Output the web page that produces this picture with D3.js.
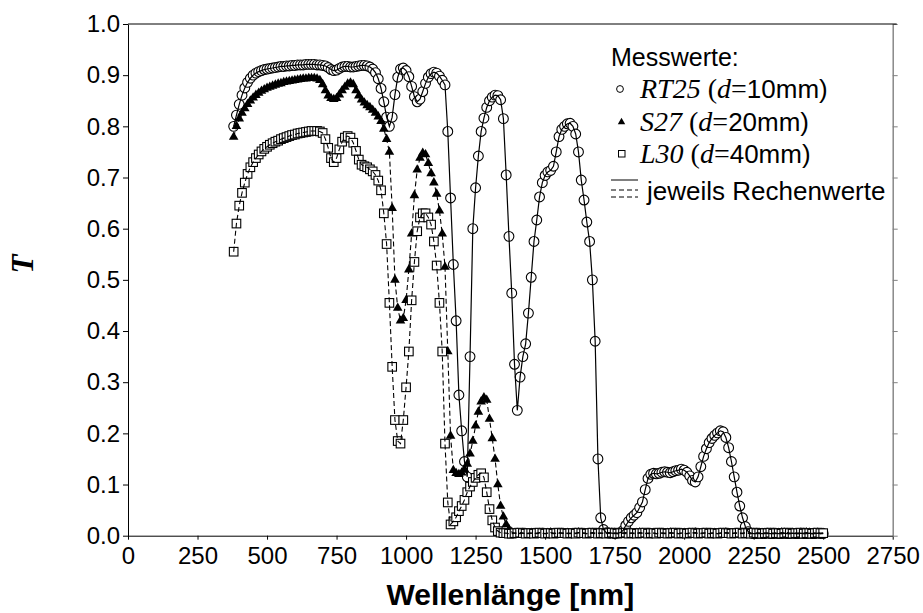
<!DOCTYPE html>
<html>
<meta charset="utf-8">
<style>
  body { margin: 0; background: #fff; }
  svg text { font-family: "Liberation Sans", Arial, sans-serif; fill: #000; }
</style>
<body>
<svg width="923" height="613"></svg>
<script src="https://cdn.jsdelivr.net/npm/d3@7/dist/d3.min.js"></script>
<script>

// Wellenlängen der Messpunkte [nm]
const wavelengths = [
  380,390,400,410,420,430,440,450,460,470,
  480,490,500,510,520,530,540,550,560,570,
  580,590,600,610,620,630,640,650,660,670,
  680,690,700,710,720,730,740,750,760,770,
  780,790,800,810,820,830,840,850,860,870,
  880,890,900,910,920,930,940,950,960,970,
  980,990,1000,1010,1020,1030,1040,1050,1060,1070,
  1080,1090,1100,1110,1120,1130,1140,1150,1160,1170,
  1180,1190,1200,1210,1220,1230,1240,1250,1260,1270,
  1280,1290,1300,1310,1320,1330,1340,1350,1360,1370,
  1380,1390,1400,1410,1420,1430,1440,1450,1460,1470,
  1480,1490,1500,1510,1520,1530,1540,1550,1560,1570,
  1580,1590,1600,1610,1620,1630,1640,1650,1660,1670,
  1680,1690,1700,1710,1720,1730,1740,1750,1760,1770,
  1780,1790,1800,1810,1820,1830,1840,1850,1860,1870,
  1880,1890,1900,1910,1920,1930,1940,1950,1960,1970,
  1980,1990,2000,2010,2020,2030,2040,2050,2060,2070,
  2080,2090,2100,2110,2120,2130,2140,2150,2160,2170,
  2180,2190,2200,2210,2220,2230,2240,2250,2260,2270,
  2280,2290,2300,2310,2320,2330,2340,2350,2360,2370,
  2380,2390,2400,2410,2420,2430,2440,2450,2460,2470,
  2480,2490,2500
];

// RT25, d = 10mm
const tRT25 = [
  0.800,0.822,0.843,0.861,0.875,0.886,0.894,0.900,0.904,0.907,
  0.909,0.911,0.912,0.913,0.914,0.915,0.916,0.917,0.917,0.918,
  0.918,0.919,0.919,0.920,0.920,0.920,0.921,0.921,0.921,0.921,
  0.920,0.920,0.919,0.918,0.915,0.911,0.909,0.910,0.913,0.916,
  0.917,0.917,0.916,0.916,0.917,0.918,0.919,0.919,0.918,0.916,
  0.912,0.905,0.893,0.874,0.848,0.818,0.800,0.818,0.862,0.896,
  0.912,0.914,0.909,0.897,0.878,0.858,0.848,0.853,0.868,0.884,
  0.896,0.903,0.906,0.904,0.898,0.890,0.881,0.790,0.660,0.530,
  0.420,0.275,0.205,0.145,0.115,0.350,0.600,0.680,0.742,0.790,
  0.816,0.837,0.850,0.857,0.861,0.860,0.852,0.815,0.705,0.585,
  0.474,0.335,0.245,0.310,0.350,0.375,0.435,0.505,0.575,0.617,
  0.662,0.690,0.704,0.711,0.714,0.722,0.750,0.780,0.794,0.800,
  0.805,0.806,0.800,0.785,0.750,0.695,0.656,0.613,0.575,0.500,
  0.380,0.150,0.035,0.012,0.006,0.005,0.005,0.004,0.005,0.006,
  0.010,0.020,0.028,0.035,0.040,0.045,0.055,0.066,0.090,0.112,
  0.120,0.122,0.121,0.122,0.124,0.125,0.124,0.123,0.125,0.127,
  0.128,0.130,0.128,0.124,0.117,0.108,0.105,0.115,0.135,0.155,
  0.170,0.182,0.190,0.196,0.201,0.205,0.203,0.192,0.172,0.145,
  0.115,0.085,0.058,0.035,0.018,0.008,0.005,0.004,0.004,0.005,
  0.004,0.004,0.005,0.004,0.004,0.005,0.004,0.004,0.005,0.004,
  0.004,0.005,0.004,0.004,0.005,0.004,0.004,0.005,0.004,0.004,
  0.005,0.004,0.004
];

// S27, d = 20mm
const tS27 = [
  0.779,0.800,0.815,0.826,0.835,0.843,0.850,0.856,0.861,0.865,
  0.869,0.872,0.875,0.877,0.879,0.881,0.883,0.884,0.886,0.887,
  0.888,0.889,0.890,0.891,0.892,0.893,0.893,0.894,0.894,0.894,
  0.893,0.890,0.882,0.870,0.860,0.855,0.853,0.855,0.862,0.870,
  0.877,0.883,0.885,0.882,0.870,0.860,0.852,0.846,0.841,0.837,
  0.832,0.826,0.819,0.810,0.795,0.775,0.750,0.640,0.500,0.445,
  0.420,0.425,0.460,0.520,0.590,0.665,0.715,0.738,0.748,0.745,
  0.728,0.708,0.690,0.668,0.635,0.590,0.525,0.360,0.195,0.128,
  0.122,0.120,0.123,0.130,0.140,0.160,0.185,0.215,0.242,0.262,
  0.270,0.265,0.228,0.190,0.150,0.100,0.058,0.037,0.022,0.012,
  0.007,0.005,0.005,0.004,0.005,0.005,0.004,0.005,0.005,0.004,
  0.005,0.005,0.004,0.005,0.006,0.005,0.004,0.005,0.005,0.004,
  0.005,0.004,0.005,0.005,0.006,0.005,0.005,0.004,0.005,0.005,
  0.004,0.005,0.005,0.004,0.005,0.006,0.005,0.005,0.004,0.005,
  0.005,0.004,0.005,0.005,0.004,0.005,0.006,0.005,0.004,0.005,
  0.005,0.005,0.004,0.005,0.005,0.004,0.005,0.006,0.005,0.005,
  0.004,0.005,0.005,0.004,0.005,0.005,0.006,0.005,0.004,0.005,
  0.005,0.004,0.005,0.005,0.004,0.005,0.005,0.006,0.005,0.004,
  0.005,0.005,0.004,0.005,0.006,0.005,0.004,0.005,0.005,0.004,
  0.005,0.005,0.004,0.005,0.005,0.004,0.005,0.006,0.005,0.005,
  0.004,0.005,0.005,0.004,0.005,0.005,0.006,0.005,0.004,0.005,
  0.005,0.004,0.005
];

// L30, d = 40mm
const tL30 = [
  0.555,0.610,0.645,0.670,0.690,0.707,0.720,0.730,0.738,0.745,
  0.751,0.756,0.760,0.764,0.767,0.770,0.772,0.775,0.777,0.779,
  0.781,0.783,0.784,0.786,0.787,0.788,0.789,0.790,0.791,0.791,
  0.791,0.790,0.787,0.775,0.758,0.738,0.730,0.738,0.755,0.770,
  0.778,0.781,0.778,0.768,0.752,0.735,0.725,0.722,0.720,0.716,
  0.712,0.705,0.694,0.675,0.630,0.570,0.455,0.330,0.226,0.185,
  0.180,0.226,0.290,0.360,0.460,0.535,0.595,0.622,0.630,0.630,
  0.622,0.608,0.575,0.528,0.455,0.360,0.180,0.065,0.022,0.028,
  0.036,0.048,0.058,0.070,0.085,0.096,0.105,0.113,0.119,0.122,
  0.114,0.085,0.052,0.030,0.016,0.009,0.006,0.005,0.005,0.004,
  0.004,0.005,0.005,0.006,0.005,0.004,0.005,0.005,0.004,0.005,
  0.006,0.005,0.004,0.005,0.005,0.004,0.005,0.006,0.005,0.005,
  0.004,0.005,0.005,0.004,0.006,0.005,0.005,0.004,0.005,0.006,
  0.005,0.004,0.005,0.005,0.004,0.005,0.006,0.005,0.004,0.005,
  0.005,0.006,0.004,0.005,0.005,0.004,0.005,0.005,0.006,0.004,
  0.005,0.005,0.004,0.006,0.005,0.005,0.004,0.005,0.005,0.006,
  0.004,0.005,0.005,0.004,0.005,0.006,0.005,0.004,0.005,0.005,
  0.006,0.004,0.005,0.005,0.004,0.005,0.006,0.005,0.005,0.004,
  0.005,0.005,0.006,0.004,0.005,0.005,0.004,0.006,0.005,0.005,
  0.004,0.005,0.005,0.006,0.004,0.005,0.005,0.004,0.005,0.006,
  0.005,0.004,0.005,0.005,0.006,0.004,0.005,0.005,0.004,0.005,
  0.006,0.005,0.005
];

const xTicks = [0,250,500,750,1000,1250,1500,1750,2000,2250,2500,2750];
const yTicks = [0,0.1,0.2,0.3,0.4,0.5,0.6,0.7,0.8,0.9,1.0];
const legendNames = ['RT25', 'S27', 'L30'];
const legendThickness = ['10mm', '20mm', '40mm'];

const svg = d3.select('svg');
const plotLeft = 128, plotRight = 892.7, plotTop = 24, plotBottom = 535.7;

const x = d3.scaleLinear().domain([0, 2750]).range([plotLeft, plotRight]);
const y = d3.scaleLinear().domain([0, 1]).range([plotBottom, plotTop]);

const sans = '"Liberation Sans", Arial, sans-serif';
const serif = '"Liberation Serif", "Times New Roman", serif';

// Achsen
const yAxisG = svg.append('g')
  .attr('transform', `translate(${plotLeft},0)`)
  .call(d3.axisLeft(y).tickValues(yTicks).tickFormat(d3.format('.1f'))
    .tickSize(5).tickSizeOuter(0).tickPadding(3));
yAxisG.attr('font-family', sans).attr('font-size', 24);

const xAxisG = svg.append('g')
  .attr('transform', `translate(0,${plotBottom})`)
  .call(d3.axisBottom(x).tickValues(xTicks).tickFormat(d3.format('d'))
    .tickSize(4).tickSizeOuter(0).tickPadding(7));
xAxisG.attr('font-family', sans).attr('font-size', 24);

// rechte Achse grau, nur Striche
const rAxisG = svg.append('g')
  .attr('transform', `translate(${plotRight},0)`)
  .call(d3.axisRight(y).tickValues(yTicks).tickFormat('').tickSize(5).tickSizeOuter(0));
rAxisG.select('.domain').attr('stroke', '#808080').attr('stroke-width', 1.4);
rAxisG.selectAll('.tick line').attr('stroke', '#808080');

svg.append('line')
  .attr('x1', plotLeft).attr('x2', plotRight + 4)
  .attr('y1', plotTop).attr('y2', plotTop)
  .attr('stroke', '#000');

svg.append('text')
  .attr('x', (plotLeft + plotRight) / 2).attr('y', 605)
  .attr('text-anchor', 'middle')
  .attr('font-weight', 'bold')
  .attr('font-size', 30)
  .text('Wellenlänge [nm]');

svg.append('text')
  .attr('transform', 'translate(33,264) rotate(-90)')
  .attr('text-anchor', 'middle')
  .style('font-family', serif)
  .attr('font-weight', 'bold')
  .attr('font-style', 'italic')
  .attr('font-size', 31)
  .text('T');

const rt25 = wavelengths.map((w, i) => ({w: w, t: tRT25[i]}));
const s27 = wavelengths.map((w, i) => ({w: w, t: tS27[i]}));
const l30 = wavelengths.map((w, i) => ({w: w, t: tL30[i]}));

// Messwerte
svg.append('g').selectAll('circle').data(rt25)
  .enter().append('circle')
  .attr('cx', d => x(d.w)).attr('cy', d => y(d.t))
  .attr('r', 4.9)
  .attr('fill', '#fff').attr('stroke', '#000').attr('stroke-width', 1.1);

const tri = d3.symbol(d3.symbolTriangle, 40);
svg.append('g').selectAll('path').data(s27)
  .enter().append('path')
  .attr('transform', d => `translate(${x(d.w)},${y(d.t)})`)
  .attr('d', tri)
  .attr('fill', '#000');

svg.append('g').selectAll('rect').data(l30)
  .enter().append('rect')
  .attr('x', d => x(d.w) - 4.3).attr('y', d => y(d.t) - 4.3)
  .attr('width', 8.6).attr('height', 8.6)
  .attr('fill', '#fff').attr('stroke', '#000').attr('stroke-width', 1.1);

// Rechenwerte
const line = d3.line().x(d => x(d.w)).y(d => y(d.t));
svg.append('path').datum(rt25).attr('d', line)
  .attr('fill', 'none').attr('stroke', '#000').attr('stroke-width', 1.2);
svg.append('path').datum(s27).attr('d', line)
  .attr('fill', 'none').attr('stroke', '#000').attr('stroke-width', 1.1)
  .attr('stroke-dasharray', '5,3');
svg.append('path').datum(l30).attr('d', line)
  .attr('fill', 'none').attr('stroke', '#000').attr('stroke-width', 1.1)
  .attr('stroke-dasharray', '5,3');

// Legende
const legend = svg.append('g');
legend.append('text').attr('x', 611).attr('y', 66).attr('font-size', 25).text('Messwerte:');

const rowY = [98, 130.5, 163];
legendNames.forEach((name, i) => {
  const t = legend.append('text').attr('x', 640).attr('y', rowY[i]).attr('font-size', 26);
  t.append('tspan').style('font-family', serif).attr('font-style', 'italic').attr('font-size', 28).text(name);
  t.append('tspan').style('font-family', serif).attr('font-size', 28).text(' (');
  t.append('tspan').style('font-family', serif).attr('font-style', 'italic').attr('font-size', 28).text('d');
  t.append('tspan').style('font-family', serif).attr('font-size', 28).text('=');
  t.append('tspan').text(legendThickness[i] + ')');
});
legend.append('circle').attr('cx', 620).attr('cy', 89).attr('r', 3.4)
  .attr('fill', '#fff').attr('stroke', '#000');
legend.append('path').attr('transform', 'translate(621.5,122)')
  .attr('d', d3.symbol(d3.symbolTriangle, 24)).attr('fill', '#000');
legend.append('rect').attr('x', 618.5).attr('y', 150.5).attr('width', 6.5).attr('height', 6.5)
  .attr('fill', '#fff').attr('stroke', '#000');

legend.append('line').attr('x1', 611).attr('x2', 638).attr('y1', 180).attr('y2', 180)
  .attr('stroke', '#000');
[190, 197].forEach(yy => {
  legend.append('line').attr('x1', 611).attr('x2', 638).attr('y1', yy).attr('y2', yy)
    .attr('stroke', '#000').attr('stroke-dasharray', '5,3');
});
legend.append('text').attr('x', 647).attr('y', 200).attr('font-size', 26).text('jeweils Rechenwerte');

</script>
</body>
</html>
